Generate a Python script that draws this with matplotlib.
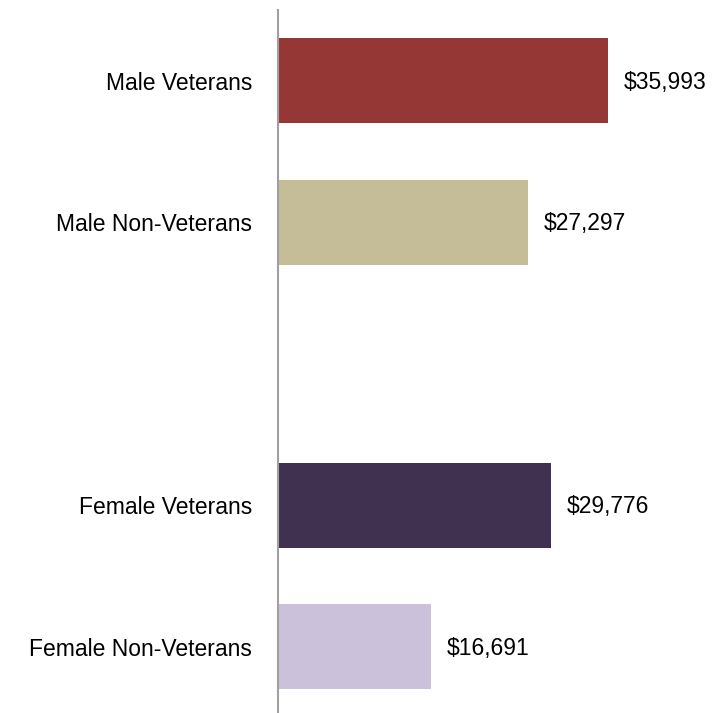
import matplotlib.pyplot as plt

# --- Data ---
labels = ['Male Veterans', 'Male Non-Veterans', 'Female Veterans', 'Female Non-Veterans']
values = [35993, 27297, 29776, 16691]
slots = [0, 1, 3, 4]  # slot 2 is left empty
colors = ['#953735', '#C4BD97', '#403151', '#CCC1DA']

plt.rcParams['font.family'] = ['Liberation Sans', 'DejaVu Sans']

fig = plt.figure(figsize=(7.22, 7.13), dpi=100)
# axes placed so the left spine sits at x=278px and spans the full height
ax = fig.add_axes([278 / 722, -4.5 / 713, 366.7 / 722, 707.5 / 713])

ax.barh(slots, values, height=0.6, color=colors)

for s, v in zip(slots, values):
    ax.annotate(f'${v:,}', xy=(v, s), xytext=(11.5, -1), textcoords='offset points',
                va='center', ha='left', fontsize=16.5)

ax.set_yticks(slots)
ax.set_yticklabels(labels, fontsize=16.5)
ax.tick_params(axis='y', length=0, pad=18.5)
for t in ax.get_yticklabels():
    t.set_y(t.get_position()[1])
ax.set_xticks([])
ax.set_xlim(0, 40000)
ax.set_ylim(4.5, -0.5)

for side in ['top', 'right', 'bottom']:
    ax.spines[side].set_visible(False)
ax.spines['left'].set_color('#A0A0A0')
ax.spines['left'].set_linewidth(1.5)

fig.savefig('out.png', dpi=100)
